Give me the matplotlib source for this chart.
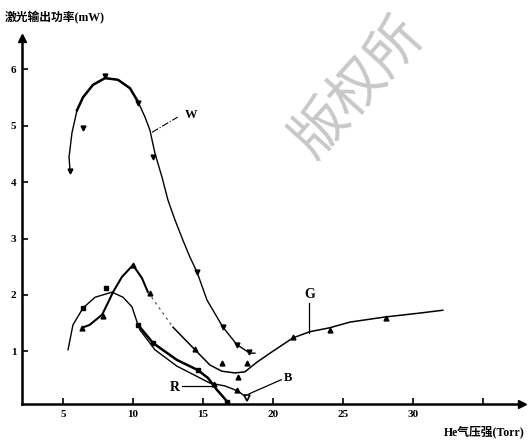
import numpy as np
import matplotlib.pyplot as plt

plt.rcParams['font.family'] = ['Liberation Serif', 'Noto Sans CJK SC', 'DejaVu Sans']

# W (white) curve
w_x = [5.5, 5.43, 5.64, 6.0, 6.43, 7.14, 8.0, 8.93, 9.79, 10.36, 10.86, 11.21, 11.57, 12.07,
       12.5, 13.0, 13.57, 14.07, 14.57, 15.29, 16.43, 17.43, 18.36, 18.71]
w_y = [4.21, 4.44, 4.87, 5.27, 5.5, 5.72, 5.84, 5.81, 5.66, 5.42, 5.15, 4.92, 4.51, 4.09,
       3.68, 3.33, 2.97, 2.67, 2.41, 1.91, 1.43, 1.12, 0.97, 0.97]
w_mx = [5.5, 6.43, 8.0, 10.36, 11.43, 14.57, 16.43, 17.43, 18.3]
w_my = [4.2, 4.96, 5.87, 5.4, 4.44, 2.41, 1.43, 1.11, 0.99]

# G (green) curve, dotted piece between 11.07 and 12.86
g1_x = [6.36, 6.9, 7.79, 8.21, 8.57, 9.21, 10.0, 10.64, 11.07]
g1_y = [1.42, 1.47, 1.65, 1.86, 2.05, 2.32, 2.53, 2.3, 2.05]
g2_x = [11.07, 12.14, 12.86]
g2_y = [2.05, 1.68, 1.43]
g3_x = [12.86, 14.43, 15.5, 16.36, 17.29, 18.0, 18.86, 19.79, 21.43, 22.64, 24.07, 25.5,
        28.0, 30.5, 32.14]
g3_y = [1.43, 1.03, 0.76, 0.65, 0.62, 0.64, 0.81, 0.97, 1.24, 1.35, 1.42, 1.52,
        1.61, 1.68, 1.73]
g_mx = [6.36, 7.86, 10.0, 11.2, 14.43, 21.4, 24.1, 28.1]
g_my = [1.42, 1.63, 2.53, 2.04, 1.04, 1.26, 1.38, 1.59]

# R curve (shares the rising branch)
r_x = [5.36, 5.71, 6.43, 7.29, 8.5, 9.29, 9.93, 10.36, 11.43, 13.14, 14.64, 15.36,
       16.0, 16.5, 16.86]
r_y = [1.03, 1.47, 1.77, 1.96, 2.05, 1.96, 1.79, 1.47, 1.15, 0.85, 0.67, 0.53,
       0.32, 0.18, 0.07]
r_mx = [6.43, 8.07, 10.36, 11.43, 14.64, 16.7]
r_my = [1.77, 2.12, 1.47, 1.15, 0.67, 0.1]

# B curve
b_x = [10.36, 10.5, 11.57, 13.14, 14.64, 15.5, 16.57, 17.5, 18.14]
b_y = [1.47, 1.38, 1.03, 0.74, 0.55, 0.44, 0.39, 0.3, 0.18]
b_mx = [15.8, 17.4]
b_my = [0.42, 0.32]

# loose points
s_x = [16.36, 18.14, 17.5]
s_y = [0.8, 0.8, 0.55]

x_ticks = [5, 10, 15, 20, 25, 30, 35]
x_labels = ['5', '10', '15', '20', '25', '30', '']
y_ticks = [1, 2, 3, 4, 5, 6]

fig = plt.figure(figsize=(5.3, 4.41), dpi=100)
ax = fig.add_axes([22 / 530, 1 - 404 / 441, 500 / 530, (404 - 38) / 441])
xmin, xmax = 2.07, 37.8
ymin, ymax = 0.07, 6.55
ax.set_xlim(xmin, xmax)
ax.set_ylim(ymin, ymax)

ax.plot(w_x, w_y, color='black', lw=1.0)
ax.plot(w_x[3:10], w_y[3:10], color='black', lw=1.8)
ax.plot(w_mx, w_my, ls='none', marker='v', ms=3.5, color='black')

ax.plot(g1_x, g1_y, color='black', lw=1.5)
ax.plot(g2_x, g2_y, color='#555555', lw=0.9, ls=(0, (2, 3)))
ax.plot(g3_x, g3_y, color='black', lw=1.1)
ax.plot(g_mx, g_my, ls='none', marker='^', ms=3.5, color='black')

ax.plot(r_x, r_y, color='black', lw=1.0)
ax.plot(r_x[7:], r_y[7:], color='black', lw=1.8)
ax.plot(r_mx, r_my, ls='none', marker='s', ms=3, color='black')

ax.plot(b_x, b_y, color='black', lw=1.0)
ax.plot(b_mx, b_my, ls='none', marker='^', ms=3.5, color='black')
ax.plot([18.14], [0.18], ls='none', marker='v', ms=5, mfc='white', mec='black', mew=1.2)
ax.plot(s_x, s_y, ls='none', marker='^', ms=3.5, color='black')

# curve labels with leader lines
ax.plot([11.36, 13.2], [4.88, 5.15], color='black', lw=0.8, ls='-.')
ax.text(13.7, 5.19, 'W', fontsize=9, fontweight='bold', va='center')
ax.plot([22.6, 22.6], [1.33, 1.85], color='black', lw=0.9)
ax.text(22.6, 2.0, 'G', fontsize=10, fontweight='bold', ha='center', va='center')
ax.plot([13.5, 15.6], [0.39, 0.39], color='black', lw=0.9)
ax.text(13.0, 0.37, 'R', fontsize=10, fontweight='bold', ha='center', va='center')
ax.plot([20.6, 18.3], [0.5, 0.25], color='black', lw=0.9)
ax.text(21.1, 0.53, 'B', fontsize=9, fontweight='bold', ha='center', va='center')

for s in ['top', 'right']:
    ax.spines[s].set_visible(False)
for s in ['left', 'bottom']:
    ax.spines[s].set_linewidth(1.8)
ax.plot([xmax], [ymin], marker='>', ms=6, color='black', clip_on=False)
ax.plot([xmin], [ymax], marker='^', ms=6, color='black', clip_on=False)

ax.set_xticks(x_ticks)
ax.set_xticklabels(x_labels, fontweight='bold')
ax.set_yticks(y_ticks)
ax.set_yticklabels([str(v) for v in y_ticks], fontweight='bold')
ax.tick_params(direction='in', length=4, width=1.2, labelsize=8, pad=4)

fig.text(5 / 530, 1 - 18 / 441, '激光输出功率(mW)', fontsize=8.5, fontweight='bold',
         va='center', ha='left')
fig.text(525 / 530, 1 - 432 / 441, 'He气压强(Torr)', fontsize=8.5, fontweight='bold',
         va='center', ha='right')

# watermark
fig.text(358 / 530, 1 - 88 / 441, '版权所', fontsize=40, color='#c8c8c8',
         rotation=48, ha='center', va='center', zorder=0, family='Noto Sans CJK SC')

fig.savefig('out.png', dpi=100)
